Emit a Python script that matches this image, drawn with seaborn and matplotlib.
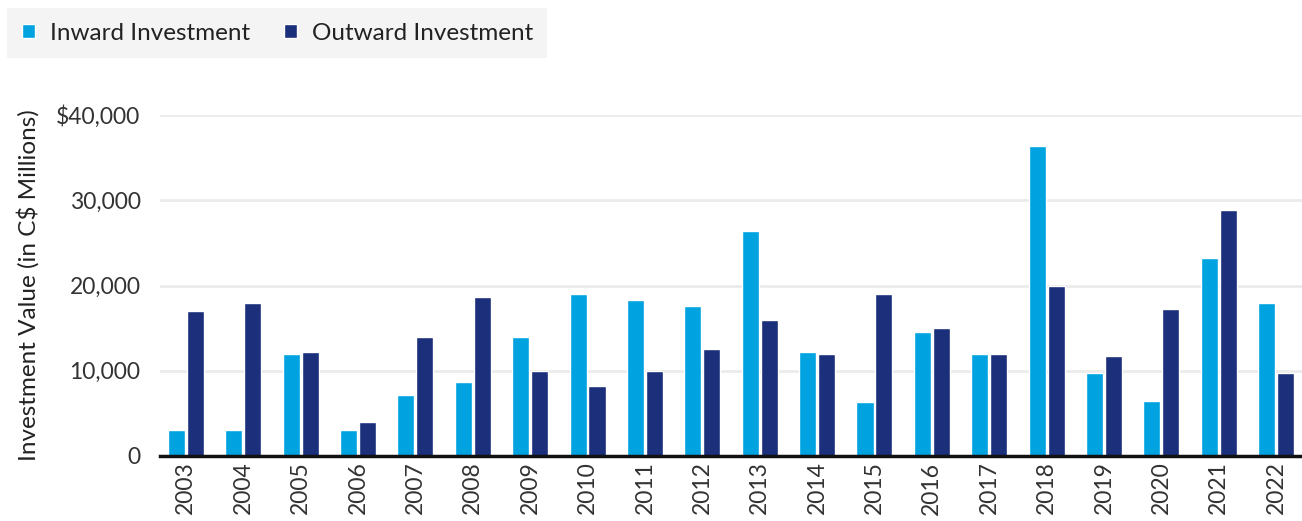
import matplotlib
matplotlib.use("Agg")
import matplotlib.pyplot as plt
import seaborn as sns
import pandas as pd
from matplotlib.ticker import FuncFormatter

years = [str(y) for y in range(2003, 2023)]
inward = [3000, 3000, 12000, 3000, 7200, 8700, 14000, 19000, 18250, 17600,
          26400, 12250, 6300, 14600, 12000, 36400, 9700, 6500, 23200, 18000]
outward = [17000, 18000, 12250, 4000, 14000, 18600, 10000, 8200, 10000, 12600,
           16000, 12000, 19000, 15000, 12000, 20000, 11700, 17200, 28800, 9700]
series_names = ["Inward Investment", "Outward Investment"]
colors = ["#00a3e0", "#1b2f7a"]

df = pd.DataFrame({
    "Year": years * 2,
    "Value": inward + outward,
    "Series": [series_names[0]] * len(years) + [series_names[1]] * len(years),
})

sns.set_theme(style="white")
plt.rcParams["font.family"] = ["Lato", "DejaVu Sans"]

fig = plt.figure(figsize=(13.02, 5.21), dpi=100)
ax = fig.add_axes([160 / 1302, 1 - 456 / 521, 1 - 160 / 1302, (456 - 115) / 521])

sns.barplot(data=df, x="Year", y="Value", hue="Series", palette=colors,
            width=0.66, gap=0.1, ax=ax, saturation=1, legend=True, zorder=3)

ax.set_ylim(0, 40000)
ax.set_xlim(-0.45, len(years) - 0.55)
ax.set_yticks([0, 10000, 20000, 30000, 40000])
ax.yaxis.set_major_formatter(FuncFormatter(
    lambda v, p: "$40,000" if v == 40000 else ("0" if v == 0 else f"{int(v):,}")))
ax.grid(axis="y", color="#ebebeb", linewidth=2, zorder=0)
ax.set_axisbelow(True)
for s in ["top", "right", "left"]:
    ax.spines[s].set_visible(False)
ax.spines["bottom"].set_color("#111111")
ax.spines["bottom"].set_linewidth(2.5)
ax.spines["bottom"].set_zorder(5)

ax.tick_params(axis="y", length=0, pad=14, labelsize=16.5, labelcolor="#333333")
ax.tick_params(axis="x", length=0, pad=4, labelsize=16.5, labelcolor="#333333",
               labelrotation=90)
ax.set_xlabel("")
ax.set_ylabel("Investment Value (in C$ Millions)", fontsize=17.5, color="#222222",
              labelpad=12)

handles, labels = ax.get_legend_handles_labels()
ax.get_legend().remove()
leg = fig.legend(handles, labels, loc="upper left", bbox_to_anchor=(7 / 1302, 1 - 8 / 521),
                 ncol=2, frameon=True, fontsize=17.5, handlelength=0.55, handleheight=0.55,
                 handletextpad=0.6, columnspacing=1.4, borderpad=0.6,
                 facecolor="#f2f2f2", edgecolor="#f2f2f2", fancybox=False,
                 labelcolor="#222222", borderaxespad=0)
leg.get_frame().set_linewidth(0)

fig.savefig("out.png", dpi=100)
